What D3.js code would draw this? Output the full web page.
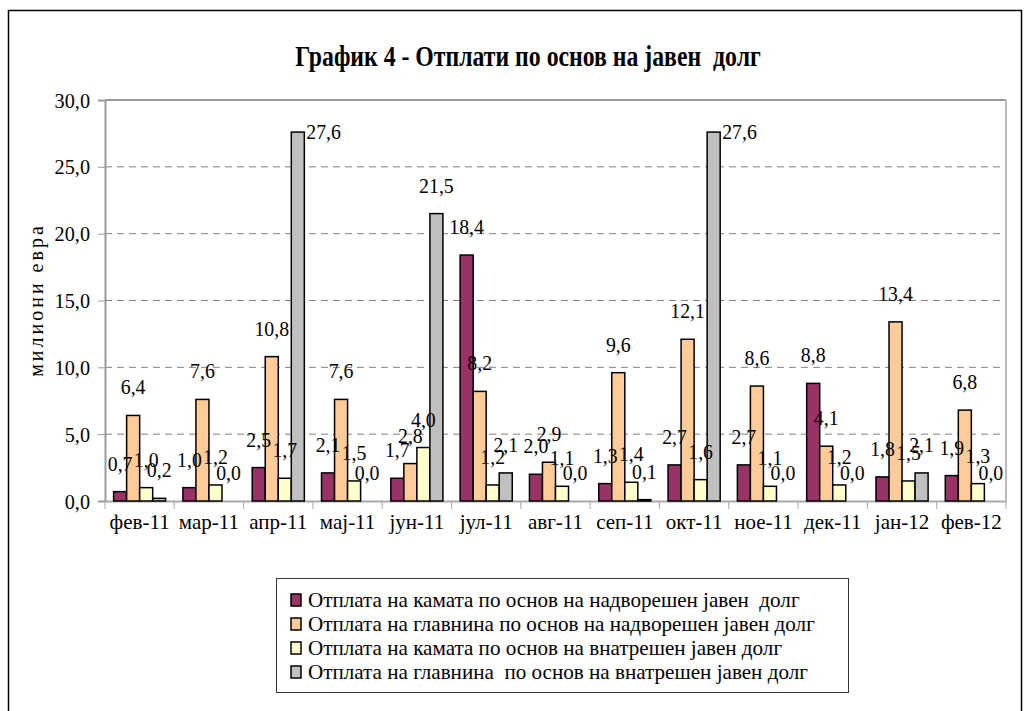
<!DOCTYPE html>
<html>
<head>
<meta charset="utf-8">
<script src="https://cdn.jsdelivr.net/npm/d3@7"></script>
<style>
  html, body { margin: 0; padding: 0; background: #fff; }
  text { font-family: "Liberation Serif", "Times New Roman", serif; fill: #000; white-space: pre; }
</style>
</head>
<body>
<svg id="chart" width="1028" height="711"></svg>
<script>
const categories = ["фев-11","мар-11","апр-11","мај-11","јун-11","јул-11","авг-11","сеп-11","окт-11","ное-11","дек-11","јан-12","фев-12"];
const seriesNames = [
  "Отплата на камата по основ на надворешен јавен  долг",
  "Отплата на главнина по основ на надворешен јавен долг",
  "Отплата на камата по основ на внатрешен јавен долг",
  "Отплата на главнина  по основ на внатрешен јавен долг"
];
const interestExternal = [0.7, 1.0, 2.5, 2.1, 1.7, 18.4, 2.0, 1.3, 2.7, 2.7, 8.8, 1.8, 1.9];
const principalExternal = [6.4, 7.6, 10.8, 7.6, 2.8, 8.2, 2.9, 9.6, 12.1, 8.6, 4.1, 13.4, 6.8];
const interestDomestic = [1.0, 1.2, 1.7, 1.5, 4.0, 1.2, 1.1, 1.4, 1.6, 1.1, 1.2, 1.5, 1.3];
const principalDomestic = [0.2, 0.0, 27.6, 0.0, 21.5, 2.1, 0.0, 0.1, 27.6, 0.0, 0.0, 2.1, 0.0];
const yTicks = [0, 5, 10, 15, 20, 25, 30];
const title = "График 4 - Отплати по основ на јавен  долг";
const yTitle = "милиони евра";
const colors = ["#993366", "#FFCC99", "#FFFFCC", "#C0C0C0"];

const seriesValues = [interestExternal, principalExternal, interestDomestic, principalDomestic];

const svg = d3.select("#chart");
const fmt = v => v.toFixed(1).replace(".", ",");

// outer border
svg.append("rect").attr("x", 8.5).attr("y", 10.5).attr("width", 1013).attr("height", 730)
  .attr("fill", "none").attr("stroke", "#000").attr("stroke-width", 1.5);

const L = 105, R = 1006, T = 100, B = 501;
const x0 = d3.scaleBand().domain(categories).range([L, R]).padding(0);
const x1 = d3.scaleBand().domain(d3.range(seriesValues.length)).range([0, x0.bandwidth()]).paddingInner(0).paddingOuter(0.66);
const y = d3.scaleLinear().domain([0, 30]).range([B, T]);

// title (condensed)
svg.append("text").attr("transform", "translate(528,66) scale(0.82,1)").attr("text-anchor", "middle")
  .style("font-size", "29px").style("font-weight", "bold").text(title);

// gridlines
svg.append("g").selectAll("line").data(yTicks.filter(t => t > 0 && t < 30)).join("line")
  .attr("x1", L).attr("x2", R).attr("y1", d => y(d)).attr("y2", d => y(d))
  .attr("stroke", "#808080").attr("stroke-width", 1).attr("stroke-dasharray", "7,5");

// plot frame (top, right)
svg.append("line").attr("x1", L).attr("x2", R).attr("y1", T).attr("y2", T).attr("stroke", "#999").attr("stroke-width", 2);
svg.append("line").attr("x1", R).attr("x2", R).attr("y1", T).attr("y2", B).attr("stroke", "#bbb").attr("stroke-width", 2);

// y axis
const yAxis = d3.axisLeft(y).tickValues(yTicks).tickSize(7).tickPadding(8).tickFormat(fmt);
const gy = svg.append("g").attr("transform", `translate(${L},0)`).call(yAxis);
gy.select(".domain").attr("stroke", "#999").attr("stroke-width", 2);
gy.selectAll(".tick line").attr("stroke", "#999");
gy.selectAll(".tick text").style("font-size", "22px").style("font-family", "Liberation Serif").attr("fill", "#000")
  .attr("transform", "scale(0.92,1)").attr("x", -15 / 0.92);

// x axis
const xAxis = d3.axisBottom(x0).tickSize(0).tickPadding(13);
const gx = svg.append("g").attr("transform", `translate(0,${B})`).call(xAxis);
gx.select(".domain").attr("stroke", "#aaa").attr("stroke-width", 2);
gx.selectAll(".tick text").style("font-size", "21px").style("font-family", "Liberation Serif").attr("fill", "#000");
// category boundary ticks
svg.append("g").selectAll("line").data(d3.range(categories.length + 1)).join("line")
  .attr("x1", i => L + i * x0.step()).attr("x2", i => L + i * x0.step())
  .attr("y1", B).attr("y2", B + 8).attr("stroke", "#aaa").attr("stroke-width", 1);

// y title
svg.append("text").attr("transform", "translate(43,300) rotate(-90)").attr("text-anchor", "middle")
  .style("font-size", "20px").style("letter-spacing", "3px").text(yTitle);

// bars
const groups = svg.append("g").selectAll("g").data(categories).join("g")
  .attr("transform", d => `translate(${x0(d)},0)`);
groups.selectAll("rect").data((c, i) => seriesValues.map((s, k) => ({k, v: s[i]}))).join("rect")
  .attr("x", d => x1(d.k)).attr("width", x1.bandwidth())
  .attr("y", d => y(d.v)).attr("height", d => B - y(d.v))
  .attr("fill", d => colors[d.k]).attr("stroke", "#000").attr("stroke-width", 1.5);

// labels (slightly condensed)
groups.selectAll("text.lbl").data((c, i) => seriesValues.map((s, k) => ({k, v: s[i]}))).join("text")
  .attr("class", "lbl")
  .each(function(d) {
    const top = y(d.v);
    const sel = d3.select(this);
    if (top - 29 < T + 10) {
      sel.attr("transform", `translate(${x1(d.k) + x1.bandwidth() + 2},${top + 7}) scale(0.9,1)`).attr("text-anchor", "start");
    } else {
      sel.attr("transform", `translate(${x1(d.k) + x1.bandwidth() / 2},${top - 21}) scale(0.9,1)`).attr("text-anchor", "middle");
    }
  })
  .style("font-size", "22px").text(d => fmt(d.v));

// legend
const lg = svg.append("g");
lg.append("rect").attr("x", 276.5).attr("y", 578.5).attr("width", 572).attr("height", 114)
  .attr("fill", "#fff").attr("stroke", "#333").attr("stroke-width", 1);
const items = lg.selectAll("g.item").data(seriesNames).join("g").attr("class", "item")
  .attr("transform", (d, i) => `translate(291,${600 + i * 24})`);
items.append("rect").attr("x", 0).attr("y", -6).attr("width", 10).attr("height", 12)
  .attr("fill", (d, i) => colors[i]).attr("stroke", "#000").attr("stroke-width", 1.5);
items.append("text").attr("transform", "translate(17,7) scale(0.96,1)").style("font-size", "22px").text(d => d);
</script>
</body>
</html>
